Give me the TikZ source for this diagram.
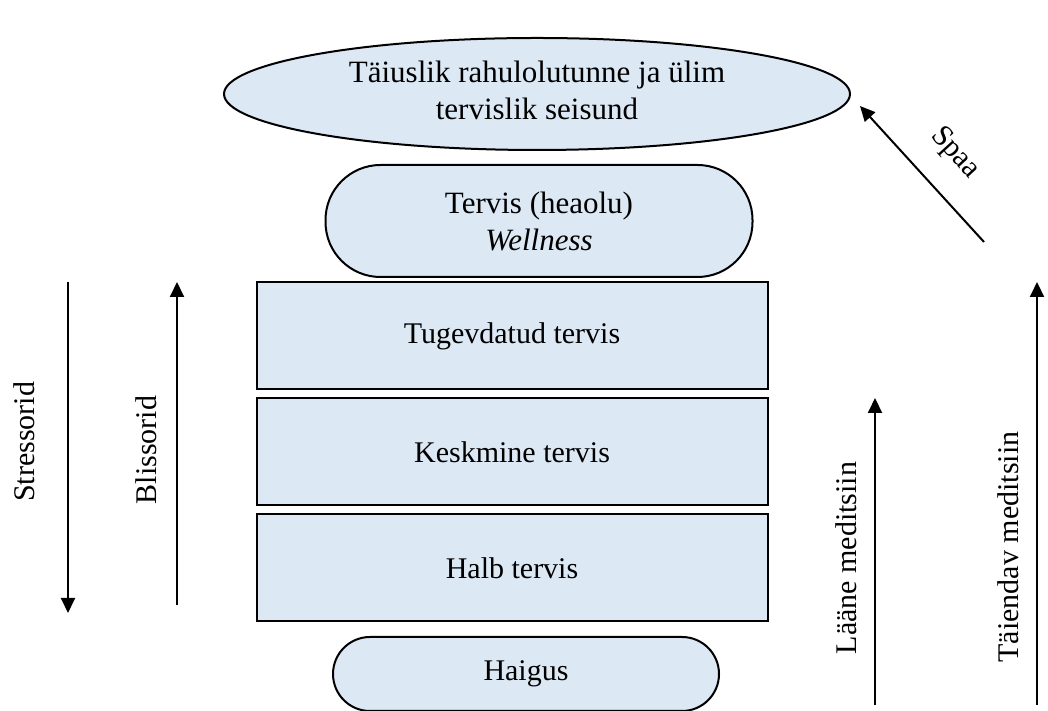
\documentclass[tikz,border=0pt]{standalone}
\usepackage{fontspec}
\setmainfont{Liberation Serif}
\usetikzlibrary{positioning,arrows.meta,shapes.geometric}
\definecolor{boxblue}{RGB}{221,232,245}

\begin{document}
\begin{tikzpicture}[x=1pt,y=1pt,node distance=116pt,line width=2pt]
	\tikzstyle{every node}=[font=\fontsize{30}{36}\selectfont,align=center,inner sep=0pt]
	\tikzstyle{level}=[draw,fill=boxblue,minimum width=511pt,minimum height=107pt]
	\tikzstyle{pill}=[draw,fill=boxblue,rounded corners=55pt]
	\tikzstyle{arr}=[-{Triangle[length=15pt,width=14pt]},line width=2pt]

	\useasboundingbox (0,0) rectangle (1048,711);

	\node[draw,fill=boxblue,ellipse,minimum width=626pt,minimum height=112pt,
		font=\fontsize{31}{37}\selectfont] (ulim) at (537,617)
		{\raisebox{9pt}{\begin{tabular}{@{}c@{}}T\"aiuslik rahulolutunne ja \"ulim\\tervislik seisund\end{tabular}}};
	\node[pill,minimum width=427pt,minimum height=112pt,font=\fontsize{31}{37}\selectfont] (tervis) at (539,490)
		{Tervis (heaolu)\\\textit{Wellness}};
	\node[level] (tugev) at (512,375)  {Tugevdatud tervis};
	\node[level] (keskm) [below of=tugev] {Keskmine tervis};
	\node[level] (halb)  [below of=keskm] {Halb tervis};
	\node[pill,rounded corners=37pt,minimum width=386pt,minimum height=74pt] (haigus) at (526,37) {Haigus};

	% arrows left
	\coordinate (s1) at (68,429);  \coordinate (s2) at (68,98);
	\coordinate (b1) at (177,106); \coordinate (b2) at (177,429);
	\draw[arr] (s1) -- (s2);
	\draw[arr] (b1) -- (b2);
	\node[rotate=90] (stress) at (24,269)  {Stressorid};
	\node[rotate=90] (bliss)  at (146,261) {Blissorid};

	% arrows right
	\coordinate (l1) at (875,6);   \coordinate (l2) at (875,313);
	\coordinate (t1) at (1037,6);  \coordinate (t2) at (1037,429);
	\coordinate (p1) at (984,469); \coordinate (p2) at (860,605);
	\draw[arr] (l1) -- (l2);
	\draw[arr] (t1) -- (t2);
	\draw[arr] (p1) -- (p2);
	\node[rotate=90] (laane) at (846,153)  {L\"a\"ane meditsiin};
	\node[rotate=90] (taien) at (1008,164) {T\"aiendav meditsiin};
	\node[rotate=-47.6] (spaa) at (955,558) {Spaa};
\end{tikzpicture}
\end{document}
